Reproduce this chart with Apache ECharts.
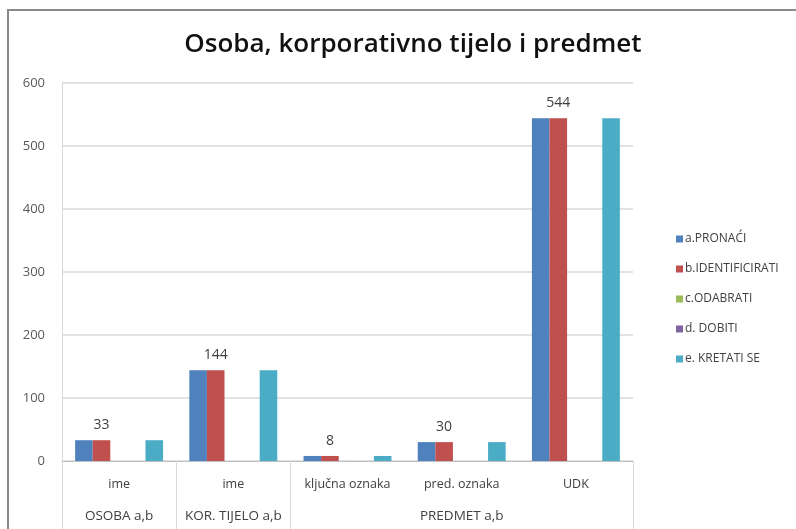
<!DOCTYPE html>
<html>
<head>
<meta charset="utf-8">
<script src="https://cdn.jsdelivr.net/npm/echarts@6/dist/echarts.min.js"></script>
<style>html,body{margin:0;padding:0;background:#fff}#c{width:796px;height:529px}</style>
</head>
<body>
<div id="c"></div>
<script>
const categories = ['ime', 'ime', 'ključna oznaka', 'pred. oznaka', 'UDK'];
const groupLabels = ['OSOBA a,b', 'KOR. TIJELO a,b', '', 'PREDMET a,b', ''];
const seriesNames = ['a.PRONAĆI', 'b.IDENTIFICIRATI', 'c.ODABRATI', 'd. DOBITI', 'e. KRETATI SE'];
const pronaci = [33, 144, 8, 30, 544];
const identificirati = [33, 144, 8, 30, 544];
const odabrati = [0, 0, 0, 0, 0];
const dobiti = [0, 0, 0, 0, 0];
const kretati = [33, 144, 8, 30, 544];
const yTicks = [0, 100, 200, 300, 400, 500, 600];

const colors = ['#4F81BD', '#C0504D', '#9BBB59', '#8064A2', '#4BACC6'];
const values = [pronaci, identificirati, odabrati, dobiti, kretati];
const FONT = 'Open Sans';

const chart = echarts.init(document.getElementById('c'), null, {renderer: 'canvas'});
chart.setOption({
  animation: false,
  backgroundColor: '#fff',
  color: colors,
  textStyle: {fontFamily: FONT},
  title: {
    text: 'Osoba, korporativno tijelo i predmet',
    left: 408, top: 27, textAlign: 'center',
    textStyle: {fontFamily: FONT, fontWeight: 600, fontSize: 26, color: '#111'}
  },
  legend: {
    orient: 'vertical', left: 671, top: 228, itemGap: 18,
    itemWidth: 7, itemHeight: 7, icon: 'rect',
    textStyle: {fontFamily: FONT, fontSize: 12, color: '#404040', padding: [0, 0, 0, -3]},
    data: seriesNames
  },
  grid: {left: 62, right: 163, top: 83, bottom: 68},
  xAxis: [{
    type: 'category', data: categories, position: 'bottom',
    axisLine: {show: true, lineStyle: {color: '#bfbfbf', width: 1}},
    axisTick: {show: true, length: 68, interval: function (i) { return i <= 2; }, lineStyle: {color: '#d9d9d9', width: 1}},
    axisLabel: {margin: 17, fontSize: 12.5, color: '#404040', fontFamily: FONT, interval: 0}
  }, {
    type: 'category', data: groupLabels, position: 'bottom', offset: 32,
    axisLine: {show: false}, axisTick: {show: false},
    axisLabel: {margin: 16, fontSize: 13.5, color: '#404040', fontFamily: FONT, interval: 0}
  }],
  yAxis: {
    type: 'value', min: yTicks[0], max: yTicks[yTicks.length - 1], interval: 100,
    axisLine: {show: true, lineStyle: {color: '#d9d9d9', width: 1}},
    axisTick: {show: false},
    axisLabel: {margin: 17, fontSize: 13, color: '#595959', fontFamily: FONT},
    splitLine: {lineStyle: {color: '#d9d9d9', width: 1.5}}
  },
  series: seriesNames.map(function (name, k) {
    return {
      name: name, type: 'bar', data: values[k], xAxisIndex: 0,
      barGap: '0%', barCategoryGap: '23%',
      label: k === 1 ? {show: true, position: 'top', distance: 8, fontSize: 14, color: '#404040', fontFamily: FONT} : {show: false}
    };
  }),
  graphic: [{
    type: 'rect', shape: {x: 8, y: 10, width: 820, height: 560},
    style: {fill: 'none', stroke: '#8a8a8a', lineWidth: 2}, silent: true, z: 100
  }]
});
</script>
</body>
</html>
